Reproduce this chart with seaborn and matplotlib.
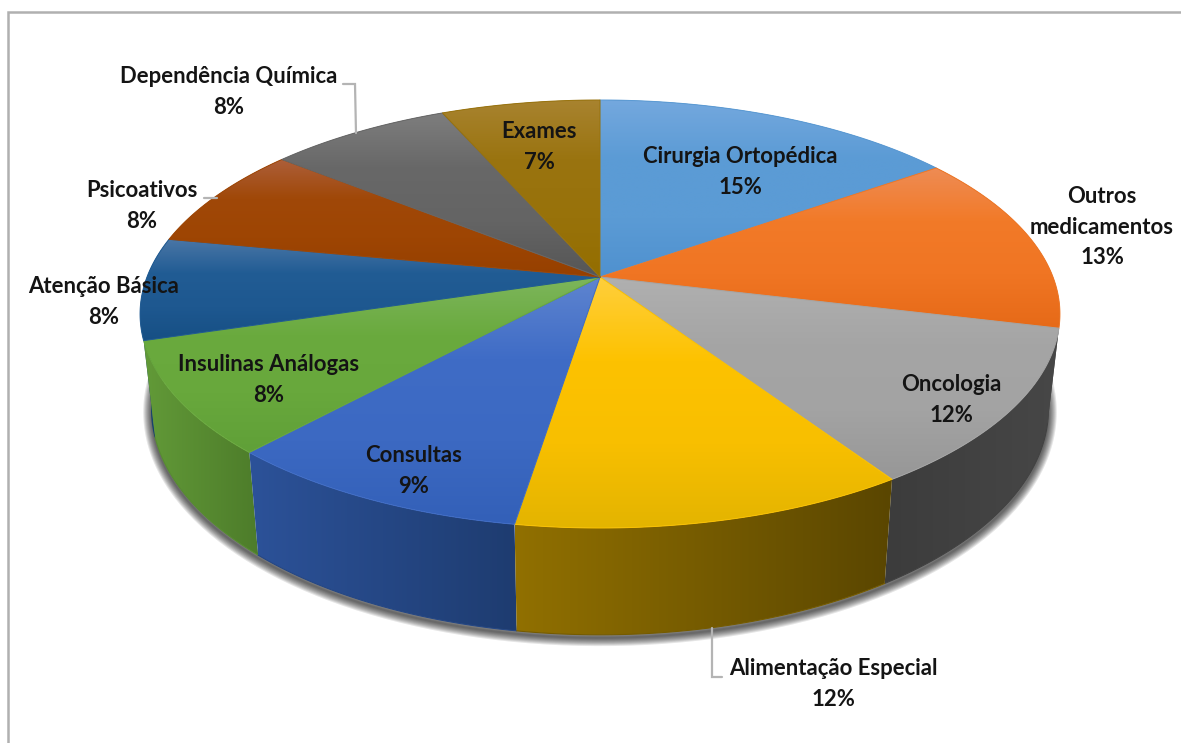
import numpy as np
import matplotlib
matplotlib.use("Agg")
import matplotlib.pyplot as plt
from matplotlib.patches import PathPatch
from matplotlib.path import Path
import seaborn as sns

# ------------------------------
# 1. Data
# ------------------------------
categories = ["Cirurgia Ortopédica", "Outros\nmedicamentos", "Oncologia", "Alimentação Especial",
              "Consultas", "Insulinas Análogas", "Atenção Básica", "Psicoativos",
              "Dependência Química", "Exames"]
percent_labels = [15, 13, 12, 12, 9, 8, 8, 8, 8, 7]
# slice sizes as measured on the picture (labels are rounded)
slice_sizes = [15.2, 13.6, 11.9, 11.8, 9.3, 8.5, 7.7, 7.8, 7.6, 6.6]

# top colours: rim, middle, middle, centre
top_colors = [("#74a8de", "#5b9bd5", "#5b9bd5", "#4f91cf"), ("#ee8c55", "#f27a28", "#f07523", "#e66a18"),
              ("#b0b0b0", "#a5a5a5", "#a3a3a3", "#979797"), ("#ffcf3c", "#fdc200", "#f8bf00", "#e3b400"),
              ("#5f85d0", "#3f6cc6", "#3c69c2", "#3360b8"), ("#7db65c", "#6aaa3e", "#68a83c", "#60a038"),
              ("#4a76a6", "#215c94", "#1e5890", "#164f84"), ("#ad5f3a", "#a04808", "#9e4503", "#964000"),
              ("#7e7e7e", "#686868", "#646464", "#565656"), ("#a8832f", "#9a7410", "#98720a", "#946e00")]
# wall colours: left, right
wall_colors = [("#264f7c", "#1f3f63"), ("#444444", "#444444"), ("#3c3c3c", "#474747"),
               ("#917000", "#5a4600"), ("#2c5299", "#1e3c70"), ("#629a38", "#4d7c2a"),
               ("#1a4a78", "#123a60"), ("#6e3000", "#6e3000"), ("#444444", "#444444"),
               ("#6e5400", "#6e5400")]

# ------------------------------
# 2. Layout (pixels of the picture)
# ------------------------------
label_xy = [(740, 172), (1102, 227), (951, 400), (833, 684), (414, 471),
            (269, 380), (104, 302), (142, 206), (229, 92), (539, 147)]
leaders = [([343, 355, 356], [84, 84, 133]), ([204, 217], [198, 198]),
           ([712, 712, 722], [628, 677, 677])]
cx, cy, radius_x, radius_y, persp = 600, 277, 453, 207.6, 0.1729
lower_sx, lower_sy, lower_cy = 0.975, 1.055, 370


def project(theta, center_y=cy, scale_x=1.0, scale_y=1.0):
    # perspective view of the pie disc, theta clockwise from the back
    u, v = np.sin(theta), np.cos(theta)
    w = 1 + persp * v
    return cx + scale_x * radius_x * u / w, center_y - scale_y * radius_y * v / w


def fill_gradient(ax, xs, ys, colors, horizontal, zorder):
    # gradient image clipped to the polygon, thin stroke smooths the clip edge
    cmap = sns.blend_palette(colors, n_colors=128, as_cmap=True)
    ramp = np.linspace(0, 1, 256)
    ramp = ramp[None, :] if horizontal else ramp[:, None]
    extent = (xs.min(), xs.max(), ys.max(), ys.min())
    img = ax.imshow(ramp, cmap=cmap, extent=extent, aspect="auto", origin="upper",
                    zorder=zorder, interpolation="bilinear")
    verts = np.column_stack([xs, ys])
    patch = PathPatch(Path(np.vstack([verts, verts[0]])), transform=ax.transData,
                      fc="none", ec="none")
    ax.add_patch(patch)
    img.set_clip_path(patch)
    return cmap


# ------------------------------
# 3. Draw
# ------------------------------
sns.set_theme(style="white")
plt.rcParams["font.family"] = ["Lato", "DejaVu Sans"]

fig = plt.figure(figsize=(11.81, 7.43), dpi=100, facecolor="white")
ax = fig.add_axes([0, 0, 1, 1])

edges = 2 * np.pi * np.concatenate([[0], np.cumsum(slice_sizes)]) / np.sum(slice_sizes)

# soft shadow below the pie
t = np.linspace(0, 2 * np.pi, 400)
sx, sy = project(t, lower_cy + 3, lower_sx, lower_sy)
for lw in np.arange(12, 0, -1.5):
    ax.plot(sx, sy, color="black", lw=lw, alpha=0.1, zorder=1, solid_capstyle="round")

# walls, back to front
order = sorted(range(len(slice_sizes)), key=lambda i: -np.cos((edges[i] + edges[i + 1]) / 2))
for rank, i in enumerate(order):
    t = np.linspace(edges[i], edges[i + 1], 100)
    x1, y1 = project(t)
    x2, y2 = project(t[::-1], lower_cy, lower_sx, lower_sy)
    xs, ys = np.concatenate([x1, x2]), np.concatenate([y1, y2])
    cmap = fill_gradient(ax, xs, ys, wall_colors[i], True, 2 + rank * 0.01)
    ax.plot(x2, y2, color=cmap(0.5), lw=0.8, zorder=2 + rank * 0.01)

# top surface
for i in range(len(slice_sizes)):
    t = np.linspace(edges[i], edges[i + 1], 100)
    x1, y1 = project(t)
    xs, ys = np.concatenate([[cx], x1]), np.concatenate([[cy], y1])
    cmap = fill_gradient(ax, xs, ys, top_colors[i], False, 3)
    ax.plot(np.append(xs, xs[0]), np.append(ys, ys[0]), color=cmap(0.45), lw=0.7, zorder=3)

# leader lines
for lx, ly in leaders:
    ax.plot(lx, ly, color="#b4b4b4", lw=1.6, zorder=4, solid_joinstyle="miter")

# labels
for name, pct, (x, y) in zip(categories, percent_labels, label_xy):
    ax.text(x, y, f"{name}\n{pct}%", ha="center", va="center", fontsize=15.9,
            fontweight="bold", color="#141414", linespacing=1.53, zorder=5)

# frame of the pasted picture: only left and top are visible
ax.plot([8, 8, 1181], [743, 12, 12], color="#b0b0b0", lw=1.8, zorder=6, solid_joinstyle="miter")

ax.set_xlim(0, 1181)
ax.set_ylim(743, 0)
ax.axis("off")

fig.savefig("out.png", dpi=100, facecolor="white")
